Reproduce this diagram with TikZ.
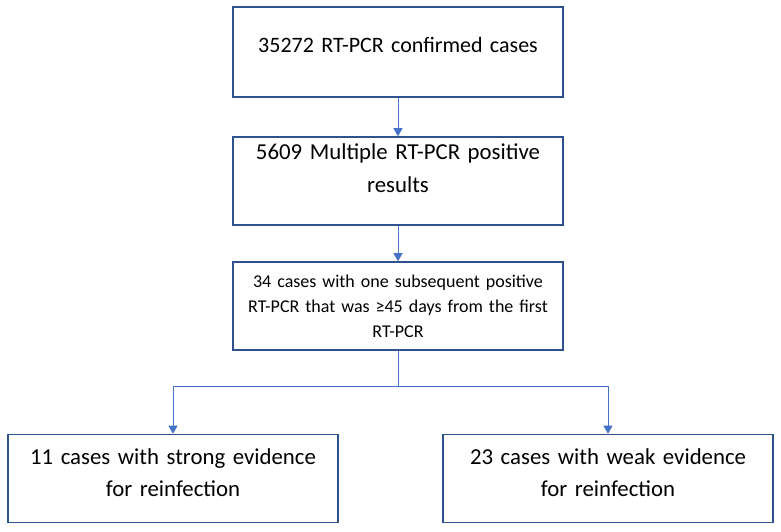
\documentclass[tikz,border=0pt]{standalone}
\usepackage{fontspec}
\setmainfont{Carlito}
\usetikzlibrary{arrows.meta,positioning}
\definecolor{boxline}{HTML}{2F528F}
\definecolor{arrline}{HTML}{4472C4}

\begin{document}
\begin{tikzpicture}[x=1pt,y=-1pt,
  box/.style={draw=boxline, line width=1.6pt, align=center, inner sep=0pt,
    text width=326pt, minimum width=330pt, minimum height=88pt,
    font=\fontsize{22.8}{32}\selectfont},
  smallbox/.style={box, font=\fontsize{18}{25}\selectfont},
  arr/.style={draw=arrline, line width=0.9pt, -{Triangle[width=9pt,length=8pt]}}]
  \useasboundingbox (0,0) rectangle (781,531);
  \node[box, minimum height=90pt, font=\fontsize{22}{32}\selectfont] (cases) at (398,52) {35272 RT-PCR confirmed cases\\[-17pt]\mbox{}};
  \node[box] (multi) at (398,181) {5609 Multiple RT-PCR positive\\[1pt]results\\[-7pt]\mbox{}};
  \node[smallbox] (later) at (398,306) {34 cases with one subsequent positive\\RT-PCR that was ≥45 days from the first\\RT-PCR};
  \node[box] (strong) at (173,478.5) {11 cases with strong evidence\\for reinfection\\[-21pt]\mbox{}};
  \node[box] (weak) at (608,478.5) {23 cases with weak evidence\\for reinfection\\[-21pt]\mbox{}};
  \coordinate (split) at (398,386);
  \draw[arr] (cases) -- (multi);
  \draw[arr] (multi) -- (later);
  \draw[arr] (later) -- (split) -| (strong);
  \draw[arr] (later.south) -- (split) -| (weak);
\end{tikzpicture}
\end{document}
